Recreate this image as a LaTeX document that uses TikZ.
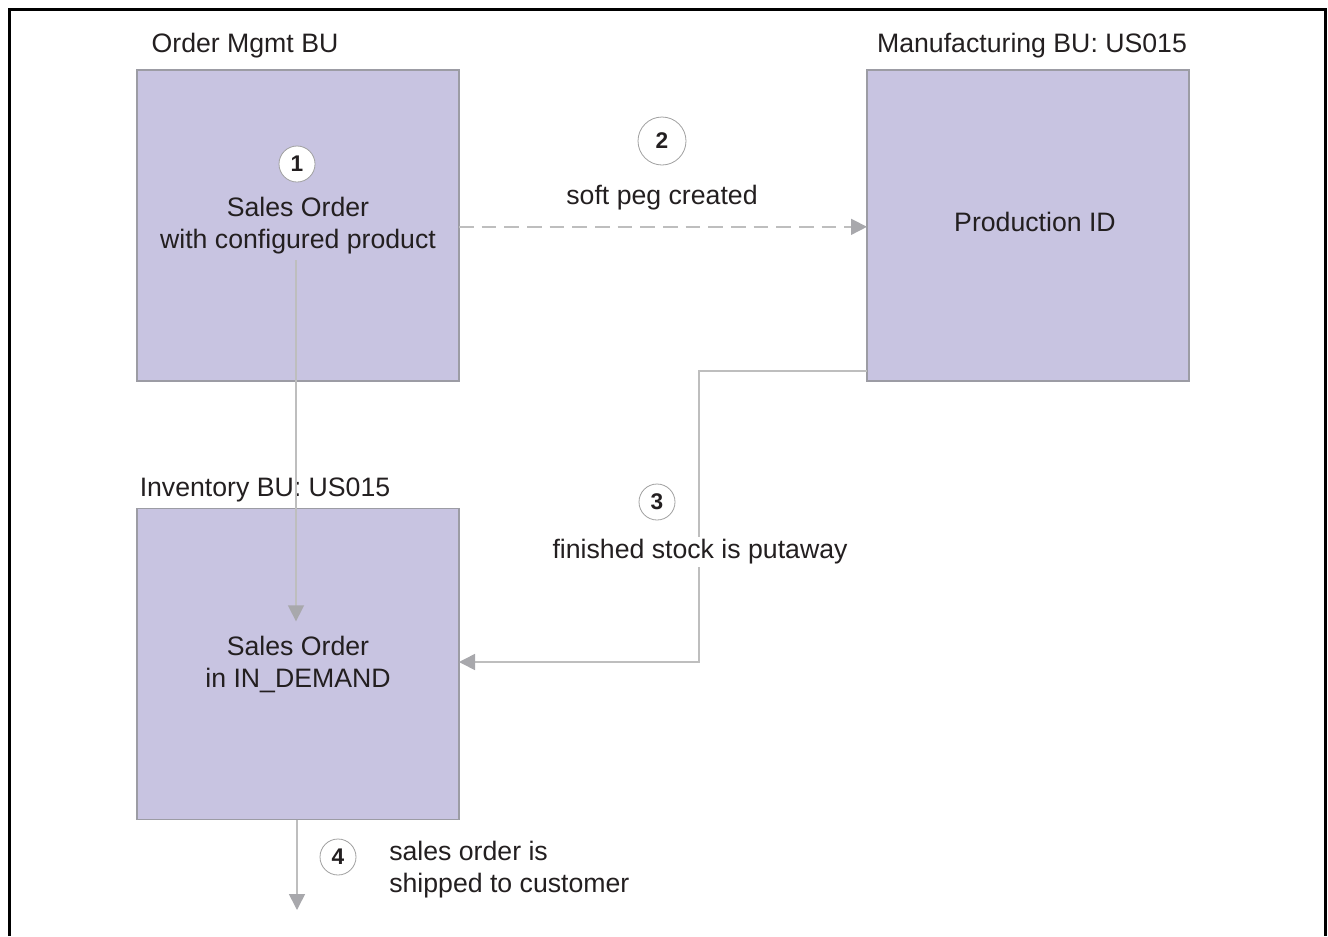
\documentclass[tikz,border=0pt]{standalone}
\usepackage{fontspec}
\setmainfont{Liberation Sans}
\usetikzlibrary{arrows.meta}
\definecolor{boxfill}{HTML}{C8C4E1}
\definecolor{boxline}{HTML}{9C9CA4}
\definecolor{flow}{HTML}{BEBEBE}
\definecolor{tipgray}{HTML}{A8A8AC}
\definecolor{ink}{HTML}{231F20}
\definecolor{ringgray}{HTML}{A0A0A0}
\begin{document}
\begin{tikzpicture}[x=0.75pt,y=-0.75pt,
  every node/.style={text=ink, font=\fontsize{20}{24}\selectfont},
  bu/.style={draw=boxline, line width=1.1pt, fill=boxfill,
    minimum width=241.5pt, minimum height=233.3pt, inner sep=0pt, outer sep=0pt, align=center},
  title/.style={inner sep=0pt},
  stepmark/.style={circle, draw=ringgray, line width=0.6pt, fill=white,
    minimum size=27pt, inner sep=0pt, font=\fontsize{17}{17}\selectfont\bfseries},
  flowline/.style={draw=flow, line width=1.2pt,
    -{Triangle[length=12pt,width=12pt,color=tipgray]}},
  caption/.style={fill=white, inner sep=2pt, align=left}]
\useasboundingbox (0,0) rectangle (1328,936);
% frame
\draw[line width=2.3pt] (9.5,936) -- (9.5,9.5) -- (1325.5,9.5) -- (1325.5,936);

% business units
\node[title] (omt) at (245,46) {Order Mgmt BU};
\node[bu] (om) at (298,225.5) {Sales Order\\with configured product};
\node[stepmark] (s1) at (297,164) {1};

\node[title] (mft) at (1032,46) {Manufacturing BU: US015};
\node[bu] (mf) at (1028,225.5) {};
\node[title] (mfx) at (1035,222) {Production ID};

\node[title] (invt) at (265,490) {Inventory BU: US015};
\node[bu] (inv) at (298,664) {Sales Order\\in IN\_DEMAND};

% step 1: sales order flows down to inventory
\draw[flowline] ([xshift=-1.5pt,yshift=-26pt]om.center) -- ([xshift=-1.5pt,yshift=32pt]inv.center);

% step 2: soft peg
\node[stepmark, minimum size=36pt] (s2) at (662,141) {2};
\node[title] (s2t) at (662,198) {soft peg created};
\draw[flowline, dash pattern=on 11pt off 6pt] ([yshift=-1pt]om.east) -- ([yshift=-1pt]mf.west);

% step 3: putaway
\draw[flowline] ([yshift=7.5pt]mf.south west) -- ++(-168,0) coordinate (bend) |- ([yshift=1.5pt]inv.east);
\node[caption] (s3t) at (700,552) {finished stock is putaway};
\node[stepmark] (s3) at (657,502) {3};

% step 4: shipment
\coordinate (out) at (297,910);
\draw[flowline] (inv.south -| out) -- (out);
\node[stepmark] (s4) at (338,857) {4};
\node[title, anchor=west, align=left] (s4t) at (389,870) {sales order is\\shipped to customer};
\end{tikzpicture}
\end{document}
